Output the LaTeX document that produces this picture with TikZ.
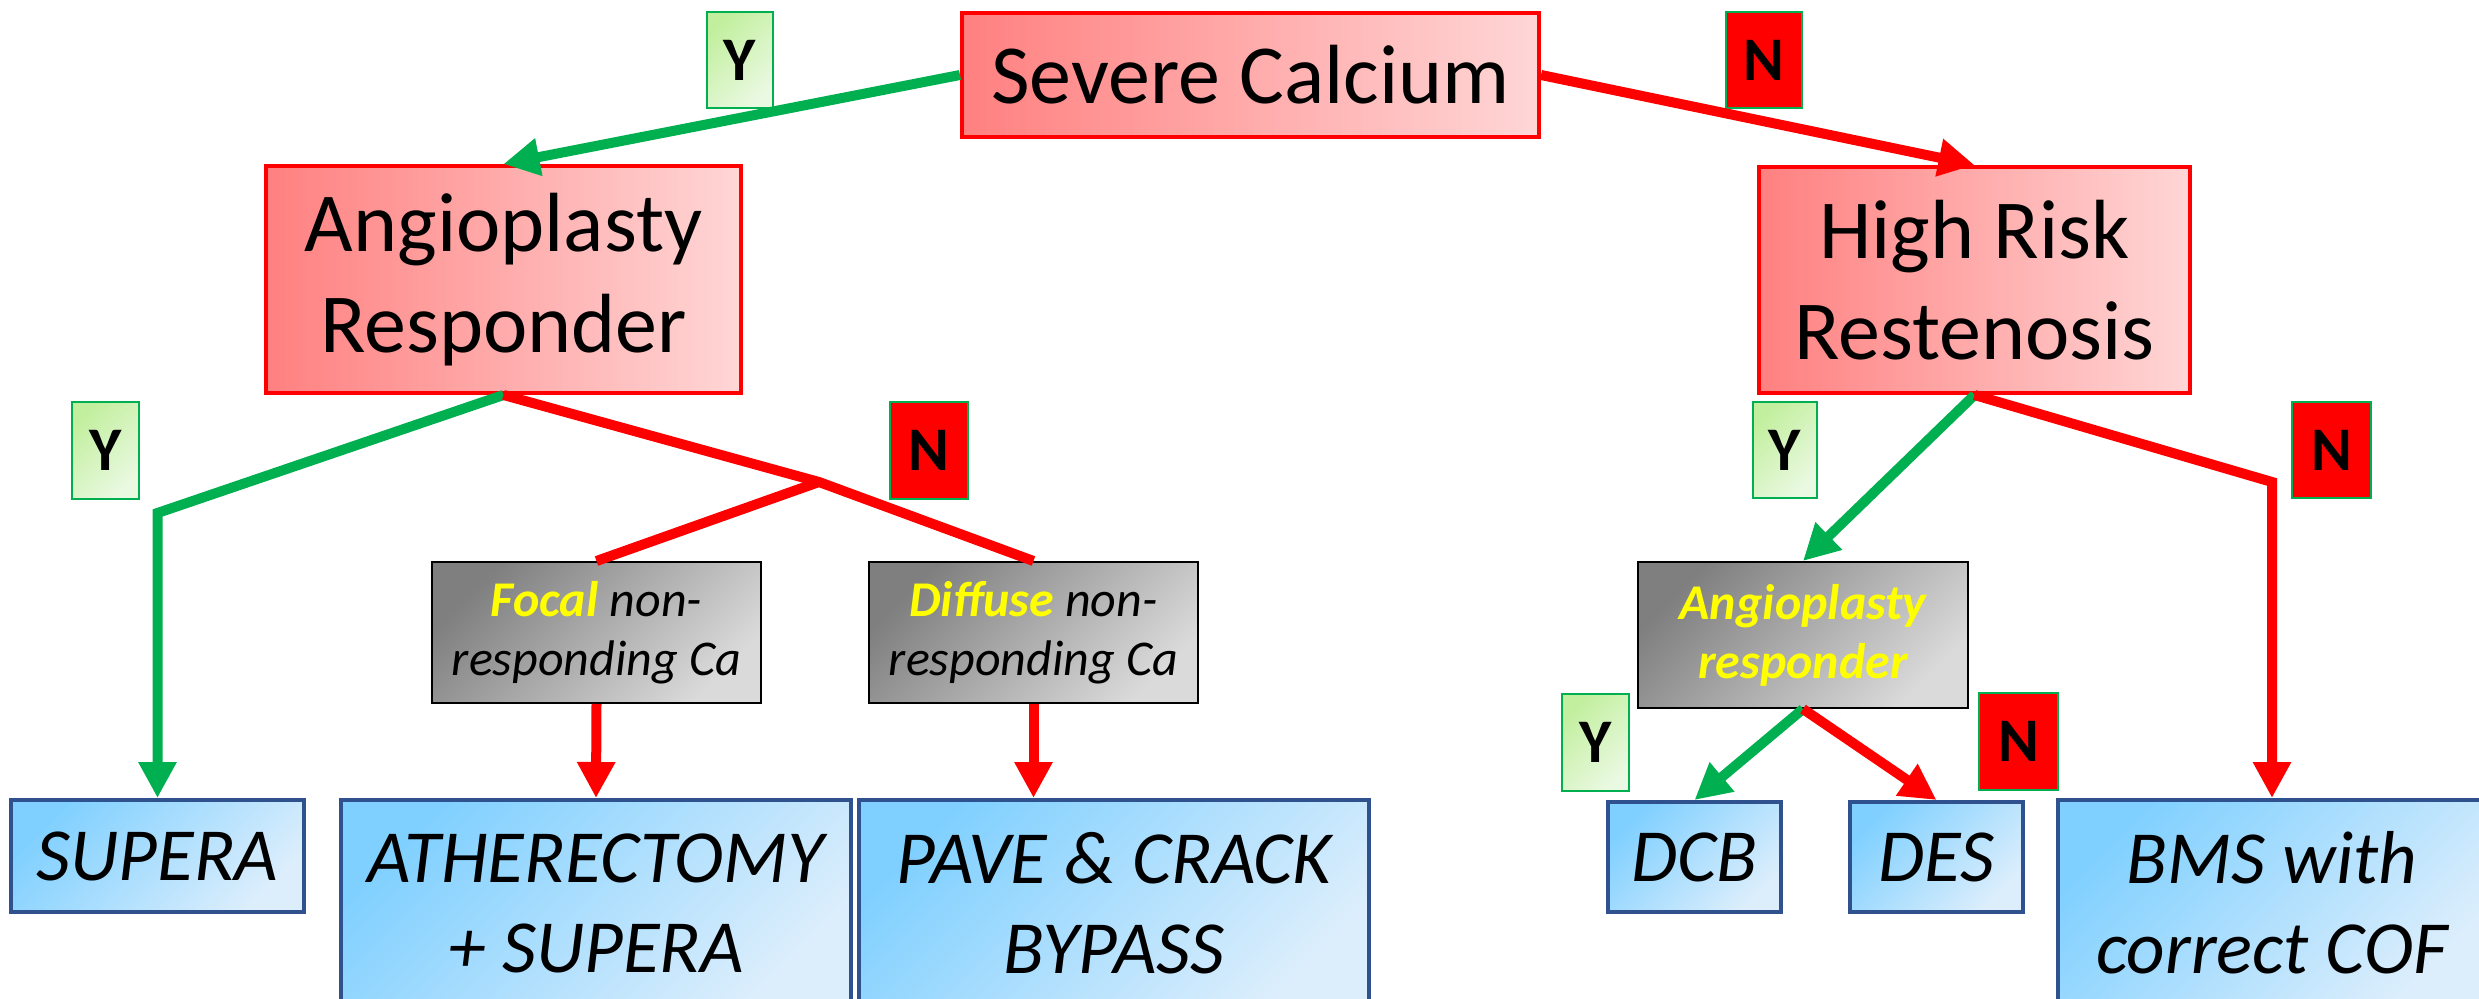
\documentclass[tikz,border=0pt]{standalone}
\usepackage{fontspec}
\setmainfont{Carlito}
\usetikzlibrary{arrows.meta}

\definecolor{yesgreen}{HTML}{00B050}
\definecolor{nored}{HTML}{FF0000}
\definecolor{redL}{HTML}{FF8080}
\definecolor{redR}{HTML}{FFD6D6}
\definecolor{blueTL}{HTML}{80D0FF}
\definecolor{blueBR}{HTML}{DCEEFC}
\definecolor{blueedge}{HTML}{2F528F}
\definecolor{grayTL}{HTML}{7F7F7F}
\definecolor{grayBR}{HTML}{DADADA}
\definecolor{labTL}{HTML}{C2EF9E}
\definecolor{labBR}{HTML}{EAF9E2}
\definecolor{tipyellow}{HTML}{FFFF00}

\tikzset{every picture/.style={line width=0.75pt}}
\tikzset{
  redbox/.style={draw=nored, line width=2pt, left color=redL, right color=redR,
    inner sep=0pt, align=center, font=\fontsize{42}{50.5}\selectfont},
  graybox/.style={draw=black, line width=1pt, top color=grayTL, bottom color=grayBR, shading angle=45,
    inner sep=0pt, align=center, font=\itshape\fontsize{25}{29.5}\selectfont},
  bluebox/.style={draw=blueedge, line width=2pt, top color=blueTL, bottom color=blueBR, shading angle=45,
    inner sep=0pt, align=center, font=\itshape\fontsize{37.5}{45}\selectfont},
  ylab/.style={draw=yesgreen, line width=1pt, top color=labTL, bottom color=labBR, shading angle=45,
    inner sep=0pt, font=\bfseries\fontsize{31}{31}\selectfont},
  nlab/.style={draw=yesgreen, line width=1pt, fill=nored,
    inner sep=0pt, font=\bfseries\fontsize{31}{31}\selectfont},
  yesline/.style={draw=yesgreen, line width=5pt},
  noline/.style={draw=nored, line width=5pt},
  tip/.style={-{Triangle[length=18pt,width=18pt]}}
}

\begin{document}
\begin{tikzpicture}[x=0.5pt,y=0.5pt,yscale=-1,xscale=1]
    \useasboundingbox (0,0) rectangle (2479,999);
    %Shape: Rectangle [severe calcium]
    \node [redbox, minimum width=288.5pt, minimum height=62pt] (sevcal) at (1250.5,75) {Severe Calcium};
    %Shape: Rectangle [angioplasty responder]
    \node [redbox, minimum width=237.5pt, minimum height=113.5pt] (angresp) at (503.5,279.5) {Angioplasty\\Responder};
    %Shape: Rectangle [high risk restenosis]
    \node [redbox, minimum width=215.5pt, minimum height=113pt] (hirisk) at (1974.5,280) {High Risk\\Restenosis};
    %Shape: Rectangle [focal]
    \node [graybox, minimum width=164.5pt, minimum height=70.5pt] (focal) at (596.5,632.5)
      {\textcolor{tipyellow}{\bfseries Focal} non-\\responding Ca};
    %Shape: Rectangle [diffuse]
    \node [graybox, minimum width=164.5pt, minimum height=70.5pt] (diffuse) at (1033.5,632.5)
      {\textcolor{tipyellow}{\bfseries Diffuse} non-\\responding Ca};
    %Shape: Rectangle [angioplasty responder, right]
    \node [graybox, minimum width=165pt, minimum height=73pt] (angresp2) at (1803,635)
      {\color{tipyellow}\bfseries Angioplasty\\\color{tipyellow}\bfseries responder};
    %Shape: Rectangle [end points]
    \node [bluebox, minimum width=146.5pt, minimum height=56pt] (supera) at (157.5,856) {SUPERA};
    \node [bluebox, minimum width=255pt, minimum height=103pt] (atherect) at (596,903) {ATHERECTOMY\\+ SUPERA};
    \node [bluebox, minimum width=255pt, minimum height=103pt] (pave) at (1114,903) {PAVE \& CRACK\\BYPASS};
    \node [bluebox, minimum width=86.5pt, minimum height=55pt] (dcb) at (1694.5,857) {DCB};
    \node [bluebox, minimum width=86.5pt, minimum height=55pt] (des) at (1936.5,857) {DES};
    \node [bluebox, minimum width=214pt, minimum height=103pt] (bms) at (2272,903) {BMS with\\correct COF};
    % Text Node
    \node [ylab, minimum width=33pt, minimum height=48pt] (ylab1) at (740,60) {Y};
    \node [nlab, minimum width=38pt, minimum height=48pt] (nlab1) at (1764,60) {N};
    \node [ylab, minimum width=33.5pt, minimum height=48.5pt] (ylab2) at (105.5,450.5) {Y};
    \node [nlab, minimum width=39pt, minimum height=48.5pt] (nlab2) at (929,450.5) {N};
    \node [ylab, minimum width=32pt, minimum height=48pt] (ylab3) at (1785,450) {Y};
    \node [nlab, minimum width=39.5pt, minimum height=48pt] (nlab3) at (2331.5,450) {N};
    \node [ylab, minimum width=33.5pt, minimum height=48.5pt] (ylab4) at (1595.5,742.5) {Y};
    \node [nlab, minimum width=39.5pt, minimum height=48.5pt] (nlab4) at (2018.5,741.5) {N};
    % bends
    \coordinate (ybend) at (157.5,513);
    \coordinate (njoin) at (819,482);
    \coordinate (nbend) at (2272,482);
    %Straight Lines
    \draw [yesline, tip] (sevcal.west) -- (angresp.north);
    \draw [noline, tip] (sevcal.east) -- (hirisk.north);
    \draw [yesline, tip] (angresp.south) -- (ybend) -- (supera.north);
    \draw [noline] (angresp.south) -- (njoin) -- (diffuse.north);
    \draw [noline] (njoin) -- (focal.north);
    \draw [noline, tip] (focal.south) -- (atherect.north);
    \draw [noline, tip] (diffuse.south) -- (diffuse.south |- pave.north);
    \draw [yesline, tip] (hirisk.south) -- (angresp2.north);
    \draw [noline, tip] (hirisk.south) -- (nbend) -- (bms.north);
    \draw [yesline, tip] (angresp2.south) -- (dcb.north);
    \draw [noline, tip] (angresp2.south) -- (des.north);
\end{tikzpicture}
\end{document}
